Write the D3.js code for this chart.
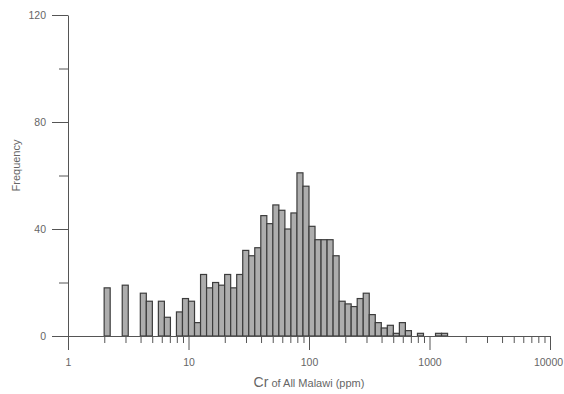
<!DOCTYPE html>
<html>
<head>
<meta charset="utf-8">
<script src="https://cdn.jsdelivr.net/npm/d3@7"></script>
<style>
  body { margin: 0; background: #fff; }
  svg text { font-family: "Liberation Sans", Arial, sans-serif; fill: #666; }
  .axis path, .axis line { stroke: #555; stroke-width: 1; }
  .axis text { font-size: 10.5px; fill: #666; }
</style>
</head>
<body>
<div id="viz_container"></div>
<script>
// histogram bins are equal steps in log10(ppm)
const binLogStart = 0.30;
const binLogStep = 0.05;
const counts = [
  18, 0, 0, 19, 0, 0, 16, 13, 0, 13,
  7, 0, 9, 14, 13, 5, 23, 18, 20, 19,
  23, 18, 23, 32, 30, 33, 45, 42, 49, 47,
  40, 46, 61, 56, 41, 36, 36, 36, 30, 13,
  12, 11, 14, 16, 8, 5, 3, 4, 1, 5,
  2, 0, 1, 0, 0, 1, 1
];
const xMajorTicks = [1, 10, 100, 1000, 10000];
const yMajorTicks = [0, 40, 80, 120];
const yMinorTicks = [20, 60, 100];

// set the dimensions and margins of the graph
const margin = {top: 15, right: 14, bottom: 58, left: 68};
const width = 564 - margin.left - margin.right;
const height = 394 - margin.top - margin.bottom;

const svg = d3.select("#viz_container")
  .append("svg")
    .attr("width", 564)
    .attr("height", 394)
  .append("g")
    .attr("transform", `translate(${margin.left},${margin.top})`);

// prepare bins
const bins = counts.map((c, i) => ({
  x0: Math.pow(10, binLogStart + i * binLogStep),
  x1: Math.pow(10, binLogStart + (i + 1) * binLogStep),
  count: c
}));

// scales
const xScale = d3.scaleLog()
  .domain([1, 10000])
  .range([0, width]);
const yScale = d3.scaleLinear()
  .domain([0, 120])
  .range([height, 0]);

// minor x ticks (2..9 in each decade)
const xMinorTicks = xScale.ticks().filter(t => !xMajorTicks.includes(t));

// bars
svg.selectAll("rect")
  .data(bins.filter(d => d.count > 0))
  .join("rect")
    .attr("x", d => xScale(d.x0))
    .attr("y", d => yScale(d.count))
    .attr("width", d => xScale(d.x1) - xScale(d.x0))
    .attr("height", d => height - yScale(d.count))
    .style("fill", "#adadad")
    .style("stroke", "#3c3c3c")
    .style("stroke-width", 1.2);

// X axis: minor then major ticks
svg.append("g")
  .attr("class", "axis")
  .attr("transform", `translate(0, ${height})`)
  .call(d3.axisBottom(xScale).tickValues(xMinorTicks).tickSize(7).tickFormat(""))
  .call(g => g.select(".domain").remove());

svg.append("g")
  .attr("class", "axis")
  .attr("transform", `translate(0, ${height})`)
  .call(d3.axisBottom(xScale).tickValues(xMajorTicks).tickSize(14).tickSizeOuter(0)
    .tickPadding(9).tickFormat(d3.format("d")))
  .call(g => g.selectAll(".tick text").filter(d => d === 10000).attr("dx", "-2"));

// Y axis: minor then major ticks
svg.append("g")
  .attr("class", "axis")
  .call(d3.axisLeft(yScale).tickValues(yMinorTicks).tickSize(9).tickFormat(""))
  .call(g => g.select(".domain").remove());

svg.append("g")
  .attr("class", "axis")
  .call(d3.axisLeft(yScale).tickValues(yMajorTicks).tickSize(16).tickSizeOuter(0)
    .tickPadding(6));

// Y axis label
svg.append("text")
    .attr("transform", `translate(${-margin.left + 20}, ${height / 2 - 10}) rotate(-90)`)
    .attr("text-anchor", "middle")
    .style("font-size", "11px")
  .text("Frequency");

// X axis label
const xLabel = svg.append("text")
    .attr("x", width / 2)
    .attr("y", height + 51)
    .attr("text-anchor", "middle");
xLabel.append("tspan").style("font-size", "14px").text("Cr");
xLabel.append("tspan").style("font-size", "11px").text(" of All Malawi (ppm)");
</script>
</body>
</html>
